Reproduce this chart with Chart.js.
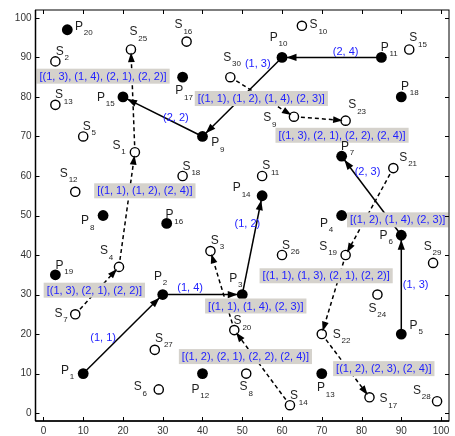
<!DOCTYPE html>
<html>
<head>
<meta charset="utf-8">
<script src="https://cdn.jsdelivr.net/npm/chart.js@4.4.0/dist/chart.umd.min.js"></script>
<style>
  html, body { margin: 0; padding: 0; background: #fff; }
  #wrap { width: 455px; height: 436px; }
</style>
</head>
<body>
<div id="wrap"><canvas id="c" width="455" height="436"></canvas></div>
<script>
// Filled points P1..P20
const pX = [10, 30, 50, 75, 90, 90, 75, 15, 40, 60, 85, 40, 70, 55, 20, 31, 35, 90, 3, 6];
const pY = [10, 30, 30, 50, 20, 45, 65, 50, 70, 90, 90, 10, 10, 55, 80, 48, 85, 80, 35, 97];

// Open points S1..S30
const sX = [23, 3, 42, 19, 10, 29, 8, 51, 63, 65, 55, 8, 3, 62, 92, 36, 82, 35, 76, 48, 88, 70, 76, 84, 22, 60, 28, 99, 98, 47];
const sY = [66, 89, 41, 37, 70, 6, 25, 10, 75, 98, 60, 56, 78, 2, 92, 94, 4, 60, 40, 21, 62, 20, 74, 30, 92, 40, 16, 3, 38, 85];

// Solid arrows between P points (from, to) and their labels
const pLinks = [[1, 2], [2, 3], [3, 14], [5, 6], [6, 7], [11, 10], [10, 9], [9, 15]];
const pLinkLabels = ['(1, 1)', '(1, 4)', '(1, 2)', '(1, 3)', '(2, 3)', '(2, 4)', '(1, 3)', '(2, 2)'];

// Dashed arrows between S points (from, to) and their labels
const sLinks = [[7, 4], [4, 1], [1, 25], [30, 9], [9, 23], [21, 19], [19, 22], [22, 17], [14, 20], [20, 3]];
const sLinkLabels = [
  '[(1, 3), (2, 1), (2, 2)]',
  '[(1, 1), (1, 2), (2, 4)]',
  '[(1, 3), (1, 4), (2, 1), (2, 2)]',
  '[(1, 1), (1, 2), (1, 4), (2, 3)]',
  '[(1, 3), (2, 1), (2, 2), (2, 4)]',
  '[(1, 2), (1, 4), (2, 3)]',
  '[(1, 1), (1, 3), (2, 1), (2, 2)]',
  '[(1, 2), (2, 3), (2, 4)]',
  '[(1, 2), (2, 1), (2, 2), (2, 4)]',
  '[(1, 1), (1, 4), (2, 3)]'
];

// Axis ticks
const xTicks = [0, 10, 20, 30, 40, 50, 60, 70, 80, 90, 100];
const yTicks = [0, 10, 20, 30, 40, 50, 60, 70, 80, 90, 100];

// ---- layout of annotations (label anchors in axis units, name offsets in px) ----
const pLabelPos = [[15.0, 19.1], [36.9, 31.75], [51.3, 47.8], [93.6, 32.4], [81.5, 60.9], [76.0, 91.3], [53.9, 88.25], [33.3, 74.75]];
const sLabelPos = [[12.8, 31.1], [25.5, 56.25], [15.0, 85.25], [54.8, 79.6], [75.1, 70.3], [89.1, 48.9], [71.1, 34.75], [85.6, 11.25], [50.8, 14.3], [53.4, 27.1]];

const pNameOff = [[-18.3, -3], [-4.7, -18], [-9, -16], [-17.6, 8], [12.3, -8.4], [-17.7, 0], [3.3, -10], [-18, 5.6], [12.7, 6.7], [-8.3, -20],
                  [3.3, -10], [-7, 16], [-0.7, 14.6], [-25.3, -7.7], [-22, 0.7], [2.7, -8.6], [-3.3, 14], [3.7, -10.6], [4, -9.4], [11.6, -3.3]];
const sNameOff = [[-18.4, -7], [4.3, -10], [4.4, -10.7], [-15, -16], [3.6, -10], [-21, -2.3], [-16.7, -1], [-2.6, 13.3], [-26.7, 1.3], [11.7, -1],
                  [4, -10], [-11.4, -18], [3.6, -10], [4, -9.3], [4, -11.4], [-8, -16.6], [14, 1.6], [4, -9.4], [-22.3, -8.4], [3.3, -9.3],
                  [10, -10.3], [15, 0.6], [6.7, -15.6], [-5, 14], [2.6, -17.7], [4, -9.4], [4.3, -11.4], [-20, -10.7], [-5.3, -16.4], [-3, -19.4]];

const FONT = '"Liberation Sans", Arial, Helvetica, sans-serif';
const BLUE = '#2222ff';
const BOX = '#d5d2cc';

const pPts = pX.map((x, i) => ({ x, y: pY[i] }));
const sPts = sX.map((x, i) => ({ x, y: sY[i] }));

const datasets = [];
pLinks.forEach(([a, b]) => datasets.push({
  type: 'scatter', data: [pPts[a - 1], pPts[b - 1]], showLine: true,
  borderColor: '#000', borderWidth: 1.5, pointRadius: 0, fill: false, order: 2
}));
sLinks.forEach(([a, b]) => datasets.push({
  type: 'scatter', data: [sPts[a - 1], sPts[b - 1]], showLine: true,
  borderColor: '#000', borderWidth: 1.5, borderDash: [4, 3], pointRadius: 0, fill: false, order: 2
}));
datasets.push({
  type: 'scatter', data: sPts, pointRadius: 4.6, pointBackgroundColor: '#fff',
  pointBorderColor: '#000', pointBorderWidth: 1.4, order: 1
});
datasets.push({
  type: 'scatter', data: pPts, pointRadius: 5.4, pointBackgroundColor: '#000',
  pointBorderColor: '#000', pointBorderWidth: 0, order: 0
});

function arrowHead(ctx, x0, y0, x1, y1, tipOff, len, hw) {
  const dx = x1 - x0, dy = y1 - y0;
  const d = Math.hypot(dx, dy);
  const ux = dx / d, uy = dy / d;
  const tx = x1 - ux * tipOff, ty = y1 - uy * tipOff;
  const bx = tx - ux * len, by = ty - uy * len;
  ctx.beginPath();
  ctx.moveTo(tx, ty);
  ctx.lineTo(bx - uy * hw, by + ux * hw);
  ctx.lineTo(bx + uy * hw, by - ux * hw);
  ctx.closePath();
  ctx.fill();
}

const frame = {
  id: 'frame',
  afterDraw(chart) {
    const { ctx, chartArea: a, scales: { x, y } } = chart;
    ctx.save();
    ctx.strokeStyle = '#000';
    ctx.lineWidth = 1;
    ctx.strokeRect(a.left, a.top, a.right - a.left, a.bottom - a.top);
    ctx.lineWidth = 1.5;
    ctx.beginPath();
    ctx.moveTo(a.left, a.bottom); ctx.lineTo(a.right, a.bottom);
    ctx.moveTo(a.left, a.bottom); ctx.lineTo(a.left, a.top);
    ctx.stroke();
    ctx.lineWidth = 1;
    ctx.beginPath();
    xTicks.forEach(v => {
      const px = Math.round(x.getPixelForValue(v)) + 0.5;
      ctx.moveTo(px, a.bottom); ctx.lineTo(px, a.bottom - 4);
      ctx.moveTo(px, a.top); ctx.lineTo(px, a.top + 4);
    });
    yTicks.forEach(v => {
      const py = Math.round(y.getPixelForValue(v)) + 0.5;
      ctx.moveTo(a.left, py); ctx.lineTo(a.left + 4, py);
      ctx.moveTo(a.right, py); ctx.lineTo(a.right - 4, py);
    });
    ctx.stroke();
    ctx.restore();
  }
};

const notes = {
  id: 'notes',
  afterDatasetsDraw(chart) {
    const { ctx, scales: { x, y } } = chart;
    const P = p => [x.getPixelForValue(p.x), y.getPixelForValue(p.y)];
    ctx.save();
    ctx.fillStyle = '#000';
    pLinks.forEach(([a, b]) => {
      const [x0, y0] = P(pPts[a - 1]); const [x1, y1] = P(pPts[b - 1]);
      arrowHead(ctx, x0, y0, x1, y1, 4.5, 10, 3.6);
    });
    sLinks.forEach(([a, b]) => {
      const [x0, y0] = P(sPts[a - 1]); const [x1, y1] = P(sPts[b - 1]);
      arrowHead(ctx, x0, y0, x1, y1, 3, 9.5, 3.4);
    });

    // link labels
    ctx.font = '11px ' + FONT;
    ctx.textAlign = 'center';
    ctx.textBaseline = 'middle';
    sLinkLabels.forEach((t, i) => {
      const cx = x.getPixelForValue(sLabelPos[i][0]);
      const cy = y.getPixelForValue(sLabelPos[i][1]);
      const w = ctx.measureText(t).width + 6, h = 15;
      ctx.fillStyle = BOX;
      ctx.fillRect(cx - w / 2, cy - h / 2, w, h);
      ctx.fillStyle = BLUE;
      ctx.fillText(t, cx, cy + 0.5);
    });
    pLinkLabels.forEach((t, i) => {
      ctx.fillStyle = BLUE;
      ctx.fillText(t, x.getPixelForValue(pLabelPos[i][0]), y.getPixelForValue(pLabelPos[i][1]));
    });

    // point names with subscripts
    const name = (letter, num, p, off) => {
      const [cx, cy] = P(p);
      const lx = cx + off[0], ly = cy + off[1];
      ctx.fillStyle = '#1e1e1e';
      ctx.font = '12px ' + FONT;
      ctx.textAlign = 'center';
      ctx.fillText(letter, lx, ly);
      const w = ctx.measureText(letter).width;
      ctx.font = '8px ' + FONT;
      ctx.textAlign = 'left';
      ctx.fillText(String(num), lx + w / 2 + 0.8, ly + 6.5);
    };
    ctx.textBaseline = 'middle';
    pPts.forEach((p, i) => name('P', i + 1, p, pNameOff[i]));
    sPts.forEach((p, i) => name('S', i + 1, p, sNameOff[i]));
    ctx.restore();
  }
};

new Chart(document.getElementById('c'), {
  type: 'scatter',
  data: { datasets },
  options: {
    responsive: false,
    animation: false,
    events: [],
    layout: { padding: { left: 0, right: 2.5, top: 5, bottom: 0 } },
    plugins: { legend: { display: false }, tooltip: { enabled: false } },
    scales: {
      x: {
        type: 'linear', min: -2, max: 102,
        afterFit(s) { s.height = 15; },
        afterBuildTicks(s) { s.ticks = xTicks.map(v => ({ value: v })); },
        grid: { display: false, drawTicks: false },
        border: { display: false },
        ticks: { font: { family: FONT, size: 10 }, color: '#333', padding: 4, maxRotation: 0, autoSkip: false }
      },
      y: {
        type: 'linear', min: -2, max: 102,
        afterFit(s) { s.width = 35.5; },
        afterBuildTicks(s) { s.ticks = yTicks.map(v => ({ value: v })); },
        grid: { display: false, drawTicks: false },
        border: { display: false },
        ticks: { font: { family: FONT, size: 10 }, color: '#333', padding: 4, autoSkip: false }
      }
    }
  },
  plugins: [frame, notes]
});
</script>
</body>
</html>
